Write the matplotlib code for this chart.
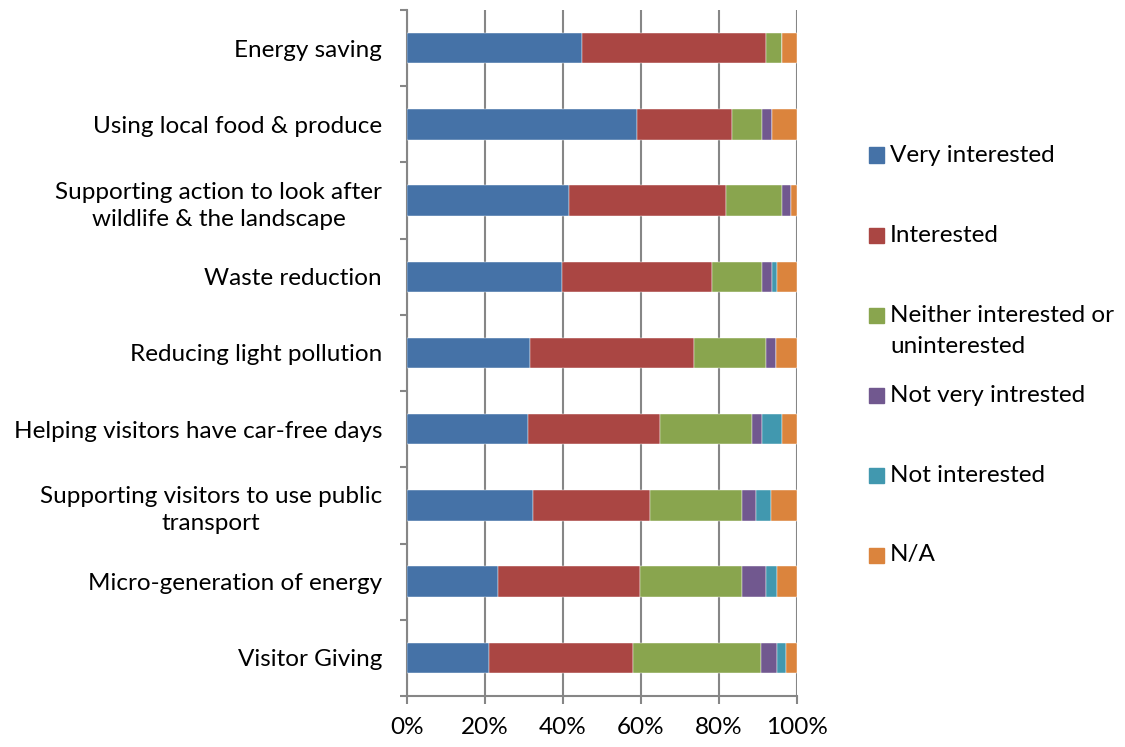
import matplotlib
matplotlib.use("Agg")
import matplotlib.pyplot as plt
from matplotlib.patches import Rectangle
from matplotlib.ticker import FixedLocator, PercentFormatter
import numpy as np

plt.rcParams['font.family'] = ['Lato', 'DejaVu Sans']

categories = [
    "Energy saving",
    "Using local food & produce",
    "Supporting action to look after\nwildlife & the landscape",
    "Waste reduction",
    "Reducing light pollution",
    "Helping visitors have car-free days",
    "Supporting visitors to use public\ntransport",
    "Micro-generation of energy",
    "Visitor Giving",
]

series_names = [
    "Very interested",
    "Interested",
    "Neither interested or\nuninterested",
    "Not very intrested",
    "Not interested",
    "N/A",
]

very_interested = [44.9, 59.0, 41.6, 39.7, 31.5, 31.1, 32.4, 23.4, 21.1]
interested      = [47.2, 24.3, 40.2, 38.6, 42.2, 33.8, 29.9, 36.3, 36.8]
neither         = [4.0, 7.7, 14.3, 12.8, 18.4, 23.5, 23.5, 26.1, 32.9]
not_very        = [0.0, 2.6, 2.4, 2.4, 2.6, 2.5, 3.8, 6.3, 4.0]
not_interested  = [0.0, 0.0, 0.0, 1.3, 0.0, 5.2, 3.8, 2.7, 2.5]
not_applicable  = [3.9, 6.4, 1.5, 5.2, 5.3, 3.9, 6.6, 5.2, 2.7]

colors = ["#4572A7", "#AA4643", "#89A54E", "#71588F", "#4198AF", "#DB843D"]
grid_color = "#868686"
fs = 17.5

series = [very_interested, interested, neither, not_very, not_interested, not_applicable]

fig = plt.figure(figsize=(11.25, 7.47), dpi=100)
ax = fig.add_axes([407 / 1125, 51 / 747, 390 / 1125, 686 / 747])

y = np.arange(len(categories))
left = np.zeros(len(categories))
for vals, col in zip(series, colors):
    v = np.array(vals)
    ax.barh(y, v, left=left, height=0.4, color=col, edgecolor="white",
            linewidth=0.3, zorder=3)
    left += v

ax.set_xlim(0, 100)
ax.set_ylim(len(categories) - 0.5, -0.5)

ax.set_xticks(np.arange(0, 101, 20))
ax.xaxis.set_major_formatter(PercentFormatter(decimals=0))
ax.grid(axis="x", color=grid_color, linewidth=1.5, zorder=0)

ax.set_yticks(y)
ax.set_yticklabels(categories, fontsize=fs, multialignment="center",
                   linespacing=1.35)
ax.yaxis.set_minor_locator(FixedLocator(np.arange(-0.5, len(categories), 1)))
ax.tick_params(axis="y", which="major", length=0, pad=18)
ax.tick_params(axis="y", which="minor", length=5, width=1.5, color=grid_color,
               direction="out")
ax.tick_params(axis="x", length=6, width=1.5, color=grid_color, pad=9,
               labelsize=fs)

for side in ("top", "right"):
    ax.spines[side].set_visible(False)
for side in ("left", "bottom"):
    ax.spines[side].set_color(grid_color)
    ax.spines[side].set_linewidth(1.5)

# Legend drawn as squares with text beside them
legend_rows = [155, 235, 315, 395, 475, 555]
for name, col, yc in zip(series_names, colors, legend_rows):
    fig.patches.append(Rectangle((869 / 1125, (747 - yc - 7.5) / 747),
                                 15 / 1125, 15 / 747, color=col,
                                 transform=fig.transFigure, figure=fig))
    two_lines = "\n" in name
    yt = yc + 16 if two_lines else yc
    fig.text(890 / 1125, (747 - yt) / 747, name, fontsize=fs, ha="left",
             va="center", linespacing=1.55, transform=fig.transFigure)

fig.savefig("out.png", dpi=100, facecolor="white")
